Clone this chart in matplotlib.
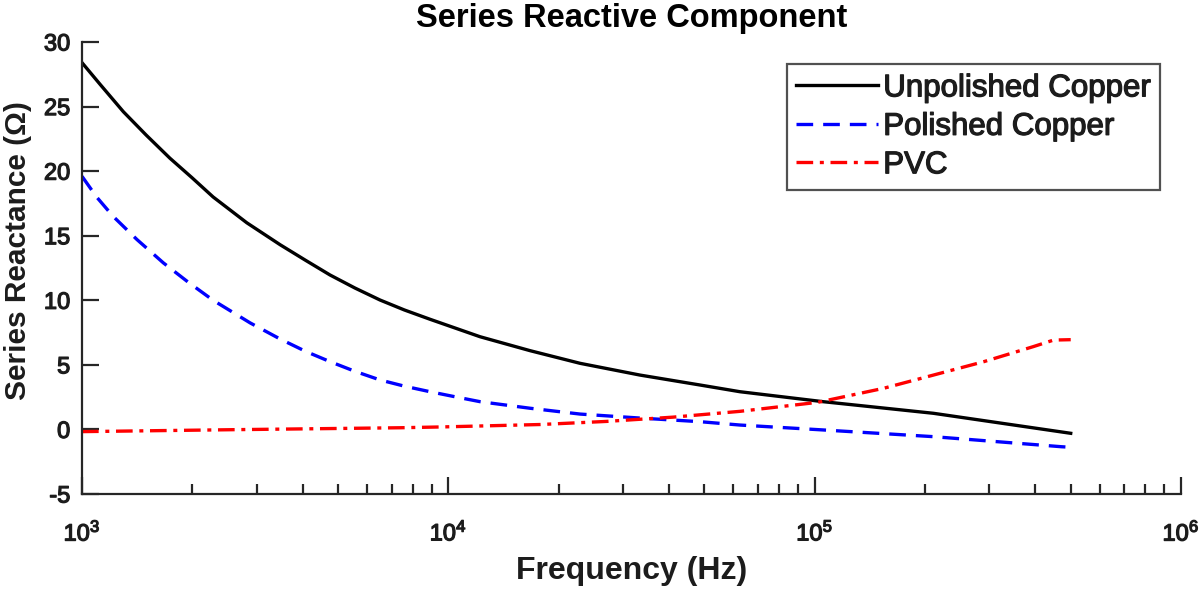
import numpy as np
import matplotlib
matplotlib.use("Agg")
import matplotlib.pyplot as plt
import matplotlib.patheffects as pe
from matplotlib.ticker import LogLocator, NullFormatter

plt.rcParams['font.family'] = ['Liberation Sans', 'DejaVu Sans']
plt.rcParams['mathtext.fontset'] = 'custom'
plt.rcParams['mathtext.rm'] = 'Liberation Sans'
plt.rcParams['mathtext.it'] = 'Liberation Sans'
plt.rcParams['mathtext.bf'] = 'Liberation Sans:bold'
plt.rcParams['axes.unicode_minus'] = False

# Data (frequency in Hz, reactance in ohm)
f_unpol = [1000, 1122, 1297, 1496, 1738, 1995, 2280, 2818, 3475, 4074,
           4753, 5559, 6510, 7586, 8913, 12200, 16710, 22880, 33340, 48640,
           62520, 105400, 210900, 500000]
x_unpol = [28.4, 26.7, 24.6, 22.8, 21.0, 19.5, 18.0, 16.0, 14.3, 13.1,
           11.96, 10.95, 10.02, 9.25, 8.53, 7.18, 6.1, 5.12, 4.21, 3.44,
           2.92, 2.15, 1.25, -0.3]

f_pol = [1000, 1096, 1216, 1413, 1667, 1950, 2280, 2570, 2877, 3475,
         4074, 4753, 5559, 6510, 7586, 8913, 10470, 12200, 16710, 22880,
         33340, 48640, 62520, 105400, 210900, 472000, 500000]
x_pol = [19.6, 18.0, 16.5, 14.7, 12.9, 11.4, 10.0, 9.1, 8.25, 7.0,
         6.05, 5.25, 4.5, 3.83, 3.35, 2.92, 2.52, 2.15, 1.64, 1.19,
         0.88, 0.6, 0.34, -0.04, -0.56, -1.34, -1.38]

f_pvc = [1000, 2580, 7380, 9480, 17800, 27000, 41000, 62500, 102000,
         154000, 211000, 289000, 395000, 449000, 500000]
x_pvc = [-0.17, -0.02, 0.13, 0.19, 0.38, 0.62, 0.95, 1.4, 2.1,
         3.18, 4.21, 5.24, 6.41, 6.92, 6.95]

labels = ['Unpolished Copper', 'Polished Copper', 'PVC']
yticks = [-5, 0, 5, 10, 15, 20, 25, 30]

TXT = '#1c1c1c'
heavy = [pe.withStroke(linewidth=0.9, foreground=TXT)]

fig = plt.figure(figsize=(12, 5.91), dpi=100)
ax = fig.add_axes([82/1200, 1 - 494/591, (1181-82)/1200, (494-42)/591])

lw = 2.4
ax.plot(f_unpol, x_unpol, color='black', lw=lw, ls='-', label=labels[0])
ax.plot(f_pol, x_pol, color='#0000ff', lw=lw, ls=(0, (5, 3)), label=labels[1])
ax.plot(f_pvc, x_pvc, color='#ff0000', lw=lw, ls=(0, (5, 2, 1.2, 2)), label=labels[2])

ax.set_xscale('log')
ax.set_xlim(1e3, 1e6)
ax.set_ylim(-5, 30)
ax.set_yticks(yticks)
ax.xaxis.set_major_locator(LogLocator(base=10, numticks=10))
ax.xaxis.set_minor_locator(LogLocator(base=10, subs=np.arange(2, 10), numticks=20))
ax.xaxis.set_minor_formatter(NullFormatter())

for s in ['top', 'right']:
    ax.spines[s].set_visible(False)
for s in ['left', 'bottom']:
    ax.spines[s].set_linewidth(1.6)
    ax.spines[s].set_color('#262626')

ax.tick_params(axis='both', which='major', direction='in', length=12, width=1.6,
               labelsize=17, color='#262626', labelcolor=TXT)
ax.tick_params(axis='x', which='minor', direction='in', length=7, width=1.6, color='#262626')
ax.tick_params(axis='x', which='major', pad=19)
ax.tick_params(axis='y', which='major', pad=8.5)
for lab in ax.get_xticklabels() + ax.get_yticklabels():
    lab.set_path_effects(heavy)

ax.set_xlabel('Frequency (Hz)', fontsize=23, fontweight='bold', color=TXT, va='baseline')
ax.xaxis.set_label_coords(0.5, (494 - 579) / 452)
ax.set_ylabel('Series Reactance (\u03a9)', fontsize=21.5, fontweight='bold', color=TXT,
              va='center', ha='center')
ax.yaxis.set_label_coords((18 - 82) / 1099, (494 - 251) / 452)
ax.set_title('Series Reactive Component', fontsize=23.5, fontweight='bold', pad=11, color='black')

leg = ax.legend(loc='upper right', bbox_to_anchor=(1160/1200, 1 - 64/591),
                bbox_transform=fig.transFigure, fontsize=22.5, frameon=True,
                fancybox=False, edgecolor='#262626', handlelength=2.6,
                borderpad=0.3, labelspacing=0.27, handletextpad=0.18,
                borderaxespad=0)
leg.get_frame().set_linewidth(1.6)
for t in leg.get_texts():
    t.set_color(TXT)
    t.set_path_effects(heavy)

fig.savefig('out.png', dpi=100)
